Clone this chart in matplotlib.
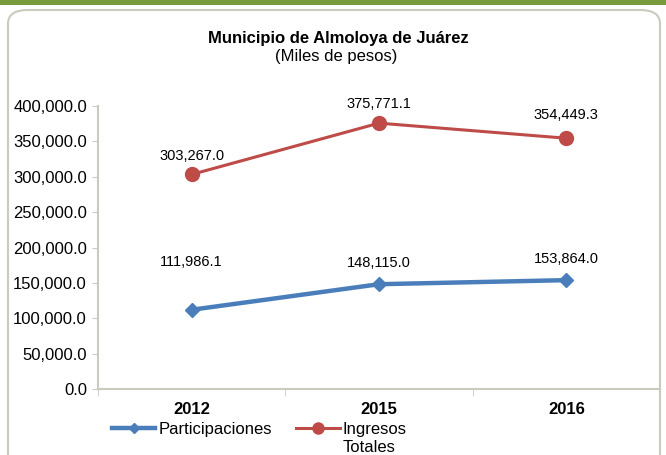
import matplotlib
matplotlib.use("Agg")
import matplotlib.pyplot as plt
from matplotlib.patches import FancyBboxPatch, Rectangle
from matplotlib.ticker import FuncFormatter
from matplotlib.lines import Line2D

years = ["2012", "2015", "2016"]
participaciones = [111986.1, 148115.0, 153864.0]
ingresos = [303267.0, 375771.1, 354449.3]
yticks = [0, 50000, 100000, 150000, 200000, 250000, 300000, 350000, 400000]

plt.rcParams['font.family'] = ['Liberation Sans', 'DejaVu Sans']

fig = plt.figure(figsize=(6.66, 4.55), dpi=100)
W, H = 666, 455

# top green band
fig.patches.append(Rectangle((0, 1 - 5 / H), 1, 5 / H, transform=fig.transFigure,
                             facecolor="#7A9A3E", edgecolor="none", zorder=-2))
# rounded frame
fig.patches.append(FancyBboxPatch((8 / W, -20 / H), 652 / W, (455 - 10 + 20) / H,
                                  boxstyle="round,pad=0,rounding_size=0.03",
                                  transform=fig.transFigure, facecolor="white",
                                  edgecolor="#C8CCBC", linewidth=1.5, zorder=-2))

ax = fig.add_axes([98 / W, 1 - 389 / H, 562 / W, (389 - 106) / H])
ax.set_facecolor("none")
ax.set_zorder(2)
x = list(range(len(years)))

ax.plot(x, participaciones, color="#4A7EBB", linewidth=3.2, marker="D",
        markersize=7, zorder=3, clip_on=False)
ax.plot(x, ingresos, color="#BE4B48", linewidth=2.2, marker="o",
        markersize=10, zorder=3, clip_on=False)

ax.set_xlim(-0.5, len(years) - 0.5)
ax.set_ylim(0, 400000)
ax.set_yticks(yticks)
ax.yaxis.set_major_formatter(FuncFormatter(lambda v, p: f"{v:,.1f}"))
ax.set_xticks(x)
ax.set_xticklabels(years, fontweight="bold", fontsize=12)
ax.set_xticks([-0.5, 0.5, 1.5, 2.5], minor=True)
ax.tick_params(axis="x", which="major", length=0, pad=9)
ax.tick_params(axis="x", which="minor", length=5, color="#C8CCBC")
ax.tick_params(axis="y", length=4, color="#C8CCBC", labelsize=12, pad=4)

for s in ["top", "right"]:
    ax.spines[s].set_visible(False)
for s in ["left", "bottom"]:
    ax.spines[s].set_color("#C8CCBC")
    ax.spines[s].set_linewidth(1.5)

blue_off = [(0, 29), (0, 10), (0, 10)]
red_off = [(0, 8), (0, 9), (0, 12)]
for i in x:
    ax.annotate(f"{participaciones[i]:,.1f}", (i, participaciones[i]),
                xytext=blue_off[i], textcoords="offset points", ha="center",
                va="bottom", fontsize=10.5)
    ax.annotate(f"{ingresos[i]:,.1f}", (i, ingresos[i]),
                xytext=red_off[i], textcoords="offset points", ha="center",
                va="bottom", fontsize=10.5)

fig.text(338 / W, 1 - 38 / H, "Municipio de Almoloya de Juárez",
         ha="center", va="center", fontweight="bold", fontsize=12)
fig.text(336 / W, 1 - 56 / H, "(Miles de pesos)",
         ha="center", va="center", fontsize=12)

h1 = Line2D([], [], color="#4A7EBB", linewidth=3.2, marker="D", markersize=5)
h2 = Line2D([], [], color="#BE4B48", linewidth=2.2, marker="o", markersize=8)
leg = fig.legend([h1, h2], ["Participaciones", "Ingresos"], ncol=2,
                 loc="upper left", bbox_to_anchor=(112 / W, 1 - 422 / H), frameon=False,
                 fontsize=12, handlelength=2.6, handletextpad=0.2, columnspacing=1.45,
                 borderpad=0, borderaxespad=0)

fig.canvas.draw()
bb = leg.get_texts()[1].get_window_extent()
fig.text(bb.x0 / W, (bb.y0 - 3) / H, "Totales", ha="left", va="top", fontsize=12)

fig.savefig("out.png", dpi=100)
